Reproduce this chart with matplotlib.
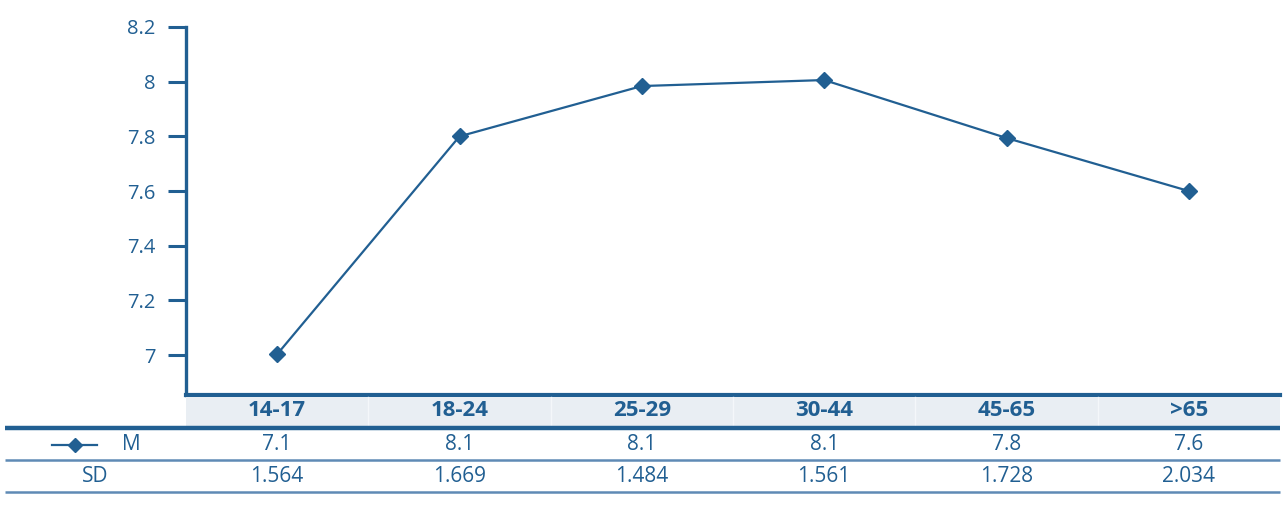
import matplotlib
matplotlib.use("Agg")
import matplotlib.pyplot as plt
from matplotlib.patches import Rectangle

categories = ["14-17", "18-24", "25-29", "30-44", "45-65", ">65"]
m_plot = [7.003, 7.80, 7.984, 8.006, 7.794, 7.60]
m_table = ["7.1", "8.1", "8.1", "8.1", "7.8", "7.6"]
sd_table = ["1.564", "1.669", "1.484", "1.561", "1.728", "2.034"]
yticks = [7, 7.2, 7.4, 7.6, 7.8, 8, 8.2]
ytick_labels = ["7", "7.2", "7.4", "7.6", "7.8", "8", "8.2"]

BLUE = "#215f92"
LBLUE = "#5f8ab5"
GRAY = "#e9eef3"
plt.rcParams['font.family'] = ['Open Sans', 'DejaVu Sans']

W, H = 1286, 512
fig = plt.figure(figsize=(W / 100, H / 100), dpi=100)

L, R, T, B = 186, 1280, 27, 395
ax = fig.add_axes([L / W, 1 - B / H, (R - L) / W, (B - T) / H])
x = list(range(len(categories)))
ax.plot(x, m_plot, color=BLUE, lw=1.6, marker="D", ms=8.5, mfc=BLUE, mec=BLUE)
ax.set_xlim(-0.5, len(categories) - 0.5)
ax.set_ylim(6.854, 8.2)
ax.set_yticks(yticks)
ax.set_yticklabels(ytick_labels)
ax.set_xticks([])
for s in ["top", "right"]:
    ax.spines[s].set_visible(False)
ax.spines["left"].set_color(BLUE)
ax.spines["left"].set_linewidth(2.4)
ax.spines["bottom"].set_color(BLUE)
ax.spines["bottom"].set_linewidth(3.0)
ax.tick_params(axis="y", direction="out", length=13, width=2.2, color=BLUE,
               labelcolor=BLUE, labelsize=14.5, pad=9)

# table axes (pixel y, category x aligned with main axes)
tab = fig.add_axes([0, 0, 1, (H - B) / H])
unit = (R - L) / len(categories)
x0 = -0.5 - L / unit
x1 = -0.5 + (W - L) / unit
tab.set_xlim(x0, x1)
tab.set_ylim(H, B)
tab.axis("off")

def px(p):
    return x0 + p / unit

n = len(categories)
tab.add_patch(Rectangle((-0.5, 397), n, 30, facecolor=GRAY, edgecolor="none"))
for i in range(1, n):
    tab.plot([i - 0.5, i - 0.5], [397, 427], color="#f4f7fa", lw=1.0)
for i, c in enumerate(categories):
    tab.text(i, 411, c, ha="center", va="center", fontsize=16, fontweight="bold",
             color=BLUE)
    tab.text(i, 445, m_table[i], ha="center", va="center", fontsize=15, color=BLUE)
    tab.text(i, 477, sd_table[i], ha="center", va="center", fontsize=15, color=BLUE)

tab.plot([px(5), px(1280)], [428, 428], color=BLUE, lw=3.2, solid_capstyle="butt")
tab.plot([px(5), px(1280)], [460, 460], color=LBLUE, lw=1.8, solid_capstyle="butt")
tab.plot([px(5), px(1280)], [492, 492], color=LBLUE, lw=1.8, solid_capstyle="butt")

tab.plot([px(52), px(97)], [445, 445], color=BLUE, lw=1.6)
tab.plot([px(75)], [445], marker="D", ms=7, color=BLUE)
tab.text(px(131), 445, "M", ha="center", va="center", fontsize=15, color=BLUE)
tab.text(px(95), 477, "SD", ha="center", va="center", fontsize=15, color=BLUE)

fig.savefig("out.png", dpi=100)
